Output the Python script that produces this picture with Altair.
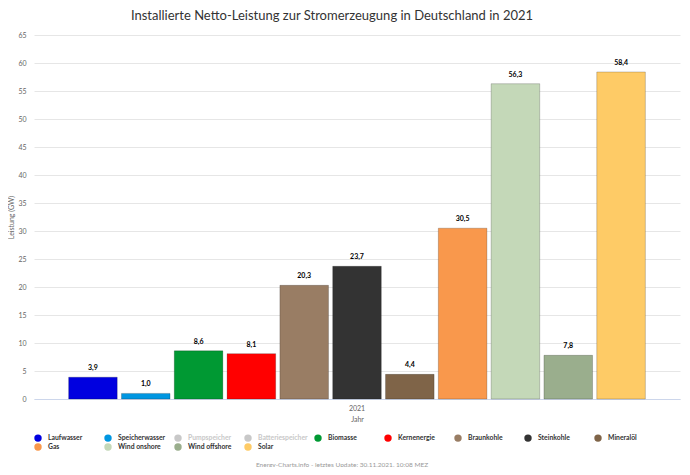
import altair as alt
import pandas as pd

title = "Installierte Netto-Leistung zur Stromerzeugung in Deutschland in 2021"
footer = "Energy-Charts.info - letztes Update: 30.11.2021, 10:08 MEZ"

all_series = ["Laufwasser", "Speicherwasser", "Pumpspeicher", "Batteriespeicher",
              "Biomasse", "Kernenergie", "Braunkohle", "Steinkohle", "Mineralöl",
              "Gas", "Wind onshore", "Wind offshore", "Solar"]
all_colors = ["#0000e0", "#0096e1", "#c8c8c8", "#c8c8c8",
              "#009933", "#ff0000", "#997d64", "#333333", "#7f6448",
              "#f9984c", "#c4d8b8", "#9aae8d", "#fecb66"]
hidden = ["Pumpspeicher", "Batteriespeicher"]

shown_series = ["Laufwasser", "Speicherwasser", "Biomasse", "Kernenergie",
                "Braunkohle", "Steinkohle", "Mineralöl", "Gas",
                "Wind onshore", "Wind offshore", "Solar"]
values = [3.9, 1.0, 8.6, 8.1, 20.3, 23.7, 4.4, 30.5, 56.3, 7.8, 58.4]
y_ticks = [0, 5, 10, 15, 20, 25, 30, 35, 40, 45, 50, 55, 60, 65]
year = "2021"

df = pd.DataFrame({"Jahr": [year] * len(shown_series),
                   "Quelle": shown_series, "Leistung": values})

FONT = "Lato"
W, H = 646, 364

hidden_list = "[" + ",".join("'" + h + "'" for h in hidden) + "]"

base = alt.Chart(df).encode(
    x=alt.X("Jahr:N", scale=alt.Scale(paddingInner=0, paddingOuter=0.056),
            axis=alt.Axis(title="Jahr", labelAngle=0, labelFontSize=7, labelColor="#666666",
                          titleFontSize=7, titleFontWeight="normal", titleColor="#666666",
                          domainColor="#ccd6eb", ticks=False, labelPadding=5, titlePadding=4,
                          labelFont=FONT, titleFont=FONT)),
    xOffset=alt.XOffset("Quelle:N", scale=alt.Scale(domain=shown_series, paddingInner=0.08, paddingOuter=0.04)),
    y=alt.Y("Leistung:Q", scale=alt.Scale(domain=[0, 65], nice=False),
            axis=alt.Axis(title="Leistung (GW)", values=y_ticks, grid=True, labelOverlap=False,
                          gridColor="#e6e6e6", domain=False, ticks=False, labelFontSize=7,
                          labelColor="#666666", labelPadding=8, titleFontSize=7,
                          titleFontWeight="normal", titleColor="#666666", titlePadding=3,
                          labelFont=FONT, titleFont=FONT)),
)

bars = base.mark_bar(strokeWidth=0.8, strokeOpacity=0.25, stroke="#000000").encode(
    color=alt.Color("Quelle:N", scale=alt.Scale(domain=all_series, range=all_colors),
                    legend=alt.Legend(title=None, orient="bottom", direction="horizontal",
                                      columns=9, symbolType="circle", symbolSize=55,
                                      symbolStrokeWidth=0, labelFontSize=6.8, labelFontWeight="bold",
                                      labelColor={"expr": "indexof(" + hidden_list + ", datum.value) >= 0 ? '#c8c8c8' : '#333333'"},
                                      labelFont=FONT, gridAlign="all", labelLimit=200,
                                      columnPadding=6, rowPadding=1, labelOffset=6,
                                      offset=12, padding=0)),
)

labels = base.transform_calculate(
    lab="replace(format(datum.Leistung, '.1f'), '.', ',')"
).mark_text(dy=-6, fontSize=7, fontWeight="bold", color="#000000", font=FONT, baseline="bottom").encode(
    text="lab:N")

foot = alt.Chart(pd.DataFrame({"t": [footer]})).mark_text(
    fontSize=6.5, color="#999999", font=FONT, align="center", baseline="middle"
).encode(x=alt.value(308), y=alt.value(430), text="t:N")

chart = alt.layer(bars, labels, foot).properties(
    width=W, height=H,
    title=alt.TitleParams(title, fontSize=13, font=FONT, fontWeight="normal", color="#333333",
                          anchor="middle", dx=-25, offset=8),
    padding={"left": 26, "top": 27, "right": 2, "bottom": 68},
    autosize=alt.AutoSizeParams(type="none"),
).configure_view(stroke=None)

chart.save("out.html", embed_options={"renderer": "svg", "actions": False})
